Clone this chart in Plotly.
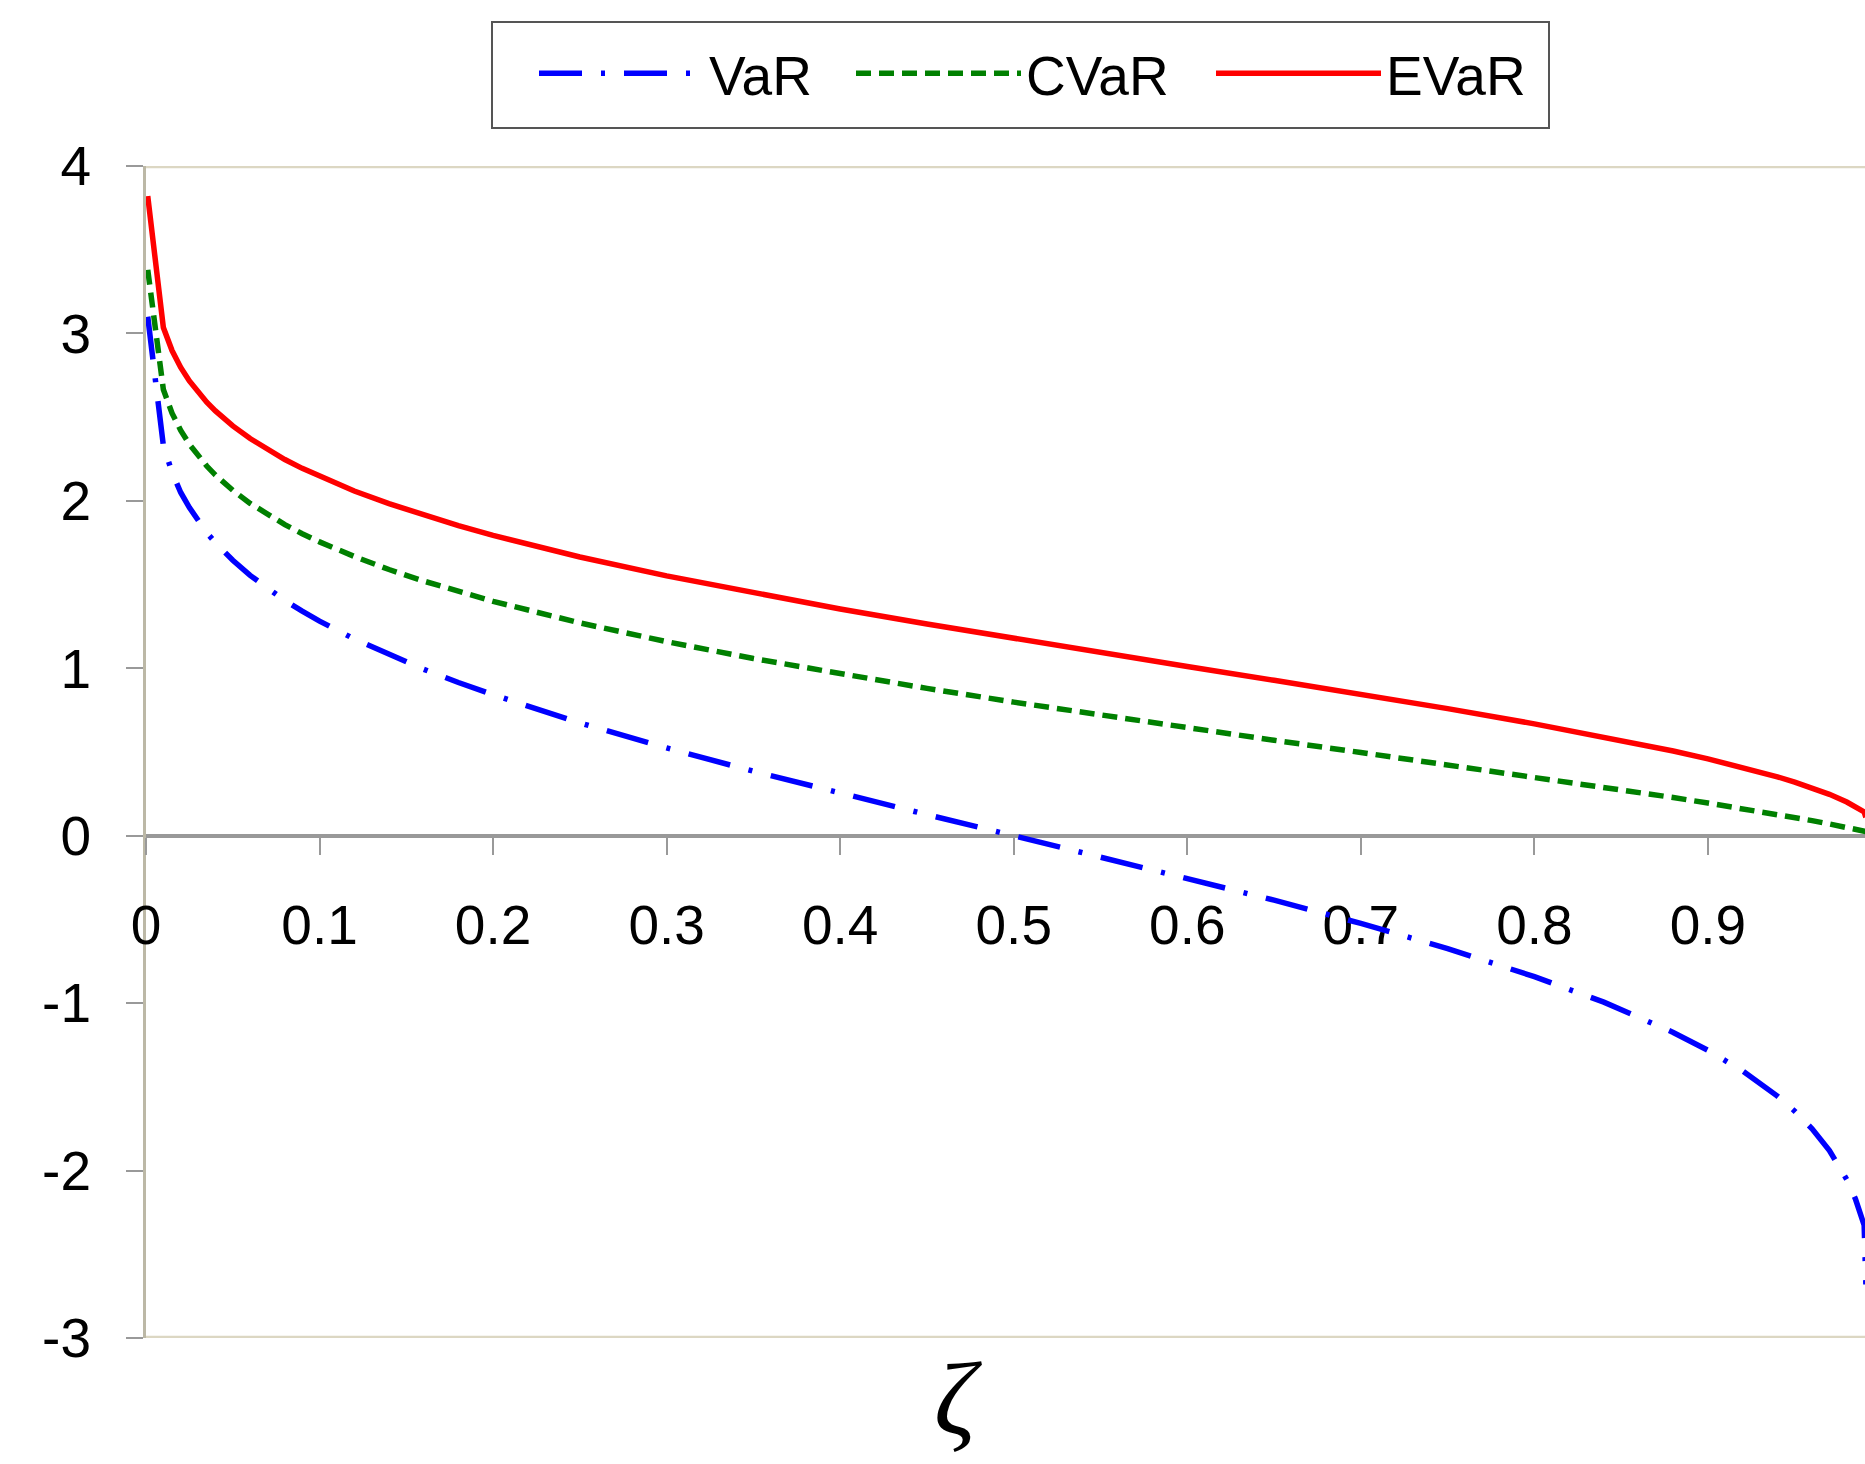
import plotly.graph_objects as go

# --- data ---
zeta = [0.001, 0.01, 0.015, 0.02, 0.025, 0.03, 0.035, 0.04, 0.05, 0.06, 0.07, 0.08, 0.09, 0.10,
        0.12, 0.14, 0.16, 0.18, 0.20, 0.25, 0.30, 0.35, 0.40, 0.45, 0.50,
        0.55, 0.60, 0.65, 0.70, 0.75, 0.80, 0.84, 0.88, 0.90, 0.92, 0.94,
        0.95, 0.96, 0.97, 0.98, 0.985, 0.99, 0.991]

var_vals = [3.10, 2.33, 2.17, 2.05, 1.96, 1.88, 1.81, 1.75, 1.645, 1.555, 1.476, 1.405, 1.341, 1.282,
            1.175, 1.080, 0.994, 0.915, 0.842, 0.674, 0.524, 0.385, 0.253, 0.126, 0.0,
            -0.126, -0.253, -0.385, -0.524, -0.674, -0.842, -0.994, -1.175, -1.282, -1.405, -1.555,
            -1.645, -1.751, -1.881, -2.054, -2.17, -2.326, -2.68]

cvar_vals = [3.38, 2.665, 2.524, 2.421, 2.338, 2.268, 2.208, 2.154, 2.063, 1.985, 1.918, 1.858, 1.804, 1.755,
             1.668, 1.590, 1.521, 1.458, 1.400, 1.271, 1.159, 1.058, 0.966, 0.880, 0.798,
             0.720, 0.644, 0.570, 0.497, 0.424, 0.350, 0.290, 0.228, 0.195, 0.162, 0.127,
             0.109, 0.090, 0.070, 0.049, 0.039, 0.027, 0.025]

evar_vals = [3.82, 3.035, 2.898, 2.797, 2.716, 2.648, 2.589, 2.537, 2.448, 2.372, 2.306, 2.247, 2.194, 2.146,
             2.059, 1.983, 1.914, 1.852, 1.794, 1.665, 1.552, 1.449, 1.354, 1.264, 1.177,
             1.093, 1.011, 0.928, 0.845, 0.759, 0.668, 0.590, 0.506, 0.459, 0.408, 0.352,
             0.320, 0.286, 0.247, 0.201, 0.174, 0.142, 0.11]

x_ticks = [0, 0.1, 0.2, 0.3, 0.4, 0.5, 0.6, 0.7, 0.8, 0.9]
x_tick_labels = ["0", "0.1", "0.2", "0.3", "0.4", "0.5", "0.6", "0.7", "0.8", "0.9"]
y_ticks = [-3, -2, -1, 0, 1, 2, 3, 4]
y_tick_labels = ["-3", "-2", "-1", "0", "1", "2", "3", "4"]

FONT = "Liberation Sans, Arial, sans-serif"
W, H = 1865, 1464
ML, MR, MT, MB = 146, 0, 166, 126
PW, PH = W - ML - MR, H - MT - MB


def px_x(p):  # window pixel -> paper x
    return (p - ML) / PW


def px_y(p):  # window pixel -> paper y
    return (H - MB - p) / PH


fig = go.Figure()
fig.add_trace(go.Scatter(x=zeta, y=var_vals, mode="lines", name="VaR", legendwidth=137,
                         line=dict(color="#0000ff", width=5.5, dash="43px,19px,4px,19px")))
fig.add_trace(go.Scatter(x=zeta, y=cvar_vals, mode="lines", name="CVaR", legendwidth=180,
                         line=dict(color="#008000", width=5.5, dash="15px,8px")))
fig.add_trace(go.Scatter(x=zeta, y=evar_vals, mode="lines", name="EVaR",
                         line=dict(color="#ff0000", width=5.5)))

ymin, ymax = -3, 4
pos0 = (0 - ymin) / (ymax - ymin)

fig.update_layout(
    template="none",
    width=W, height=H, autosize=False,
    margin=dict(l=ML, r=MR, t=MT, b=MB, pad=0, autoexpand=False),
    paper_bgcolor="white", plot_bgcolor="white",
    font=dict(family=FONT, size=55, color="black"),
    showlegend=True,
    legend=dict(orientation="h", x=px_x(534), y=px_y(31),
                xanchor="left", yanchor="top",
                borderwidth=0, bgcolor="rgba(0,0,0,0)",
                font=dict(family=FONT, size=55, color="black"),
                itemwidth=165),
    xaxis=dict(range=[0, PW / 1735.5], anchor="free", position=pos0, automargin=False,
               showline=True, linecolor="#999999", linewidth=4,
               ticks="outside", ticklen=17, tickwidth=2, tickcolor="#999999",
               tickvals=x_ticks, ticktext=x_tick_labels,
               ticklabelstandoff=23,
               showgrid=False, zeroline=False, layer="below traces",
               tickfont=dict(family=FONT, size=55, color="black")),
    yaxis=dict(range=[ymin, ymax], automargin=False,
               showline=True, linecolor="#bcb8a6", linewidth=3,
               ticks="outside", ticklen=17, tickwidth=2, tickcolor="#999999",
               tickvals=y_ticks, ticktext=y_tick_labels,
               ticklabelstandoff=24,
               showgrid=False, zeroline=False, layer="below traces",
               tickfont=dict(family=FONT, size=55, color="black")),
    shapes=[
        dict(type="line", xref="paper", yref="y", x0=0, x1=1, y0=ymax, y1=ymax,
             line=dict(color="#dcd7c3", width=4.5), layer="below"),
        dict(type="line", xref="paper", yref="y", x0=0, x1=1, y0=ymin, y1=ymin,
             line=dict(color="#dcd7c3", width=4.5), layer="below"),
        # legend frame
        dict(type="rect", xref="paper", yref="paper",
             x0=px_x(492), x1=px_x(1549), y0=px_y(128), y1=px_y(22),
             line=dict(color="#555555", width=2), fillcolor="rgba(0,0,0,0)", layer="above"),
    ],
    annotations=[
        dict(text="ζ", xref="paper", yref="paper",
             x=px_x(958), y=px_y(1398),
             xanchor="center", yanchor="middle", showarrow=False,
             font=dict(family="Liberation Serif, serif", size=104, color="black",
                       style="italic")),
    ],
)

fig.write_html("out.html",
               config={"displayModeBar": False},
               post_script="document.body.style.margin='0';"
                           "document.body.style.overflow='hidden';")
